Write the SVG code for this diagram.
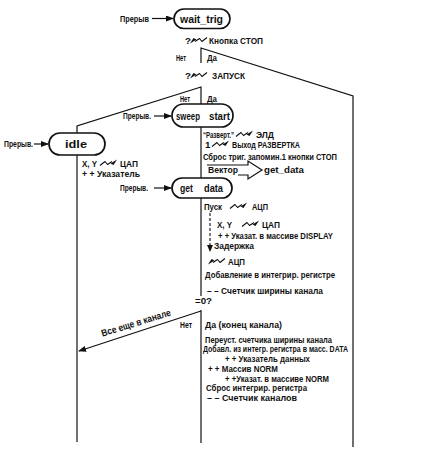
<svg xmlns="http://www.w3.org/2000/svg" xmlns:xlink="http://www.w3.org/1999/xlink" width="425" height="450" viewBox="0 0 425 450">
<style>
.t{font-family:"Liberation Sans",Arial,sans-serif;font-size:9.8px;font-weight:bold;fill:#111}
.s{font-size:9.2px}
.n{font-family:"Liberation Sans",Arial,sans-serif;font-size:10.5px;font-weight:bold;fill:#111}
.pill{fill:#fff;stroke:#111;stroke-width:1.7}
.ln{fill:none;stroke:#111;stroke-width:1.2}
.dash{fill:none;stroke:#111;stroke-width:1.1;stroke-dasharray:3 2}
.sig{fill:none;stroke:#111;stroke-width:1.1;stroke-linejoin:round}
</style>
<defs>
<marker id="ah" markerWidth="8" markerHeight="6" refX="7" refY="3" orient="auto" markerUnits="userSpaceOnUse">
<path d="M0,0 L8,3 L0,6 Z" fill="#111"/>
</marker>
<g id="sigR">
<path class="sig" d="M0,2.5 L5,-1.5 L7.5,1.5 L12,-1.5"/>
<path d="M10.5,0.5 L17,-3.5 L13.5,2 Z" fill="#111"/>
</g>
</defs>
<rect width="425" height="450" fill="#fff"/>

<g id="connectors">
<line class="ln" x1="152" y1="18.5" x2="173" y2="18.5" marker-end="url(#ah)"/>
<line class="ln" x1="154" y1="116" x2="171" y2="116" marker-end="url(#ah)"/>
<line class="ln" x1="34" y1="144" x2="48" y2="144" marker-end="url(#ah)"/>
<line class="ln" x1="154" y1="188" x2="171" y2="188" marker-end="url(#ah)"/>
<polyline class="ln" points="201,63 201,48 353,96 353,447"/>
<polyline class="ln" points="201,104 201,87 77,126 77,133"/>
<line class="ln" x1="77" y1="155" x2="77" y2="442"/>
<line class="ln" x1="201" y1="127" x2="201" y2="178"/>
<line class="ln" x1="201" y1="198" x2="201" y2="296"/>
<line class="ln" x1="201" y1="310" x2="201" y2="443"/>
<line class="ln" x1="201" y1="311" x2="79" y2="351" marker-end="url(#ah)"/>
<line class="dash" x1="210" y1="213" x2="210" y2="246"/>
<path d="M207,245 L213,245 L210,252 Z" fill="#111"/>
<path class="ln" d="M207,165 H248 V161 L262,170 L248,179 V175 H238"/>
</g>

<g id="wait_trig">
<rect class="pill" x="174" y="9" width="56" height="19.5" rx="9.75"/>
<text class="n" x="180" y="22.5" textLength="43" lengthAdjust="spacingAndGlyphs">wait_trig</text>
<text class="t" x="120" y="22" textLength="29" lengthAdjust="spacingAndGlyphs">Прерыв</text>
</g>

<g id="decision_stop">
<text class="t" x="185" y="43.5">?</text>
<use xlink:href="#sigR" transform="translate(207,40) rotate(180)"/>
<text class="t" x="209" y="43.5" textLength="54" lengthAdjust="spacingAndGlyphs">Кнопка СТОП</text>
<text class="t" x="176" y="60.5" textLength="10" lengthAdjust="spacingAndGlyphs">Нет</text>
<text class="t" x="207" y="60.5" textLength="10" lengthAdjust="spacingAndGlyphs">Да</text>
</g>

<g id="decision_start">
<text class="t" x="185" y="78.5">?</text>
<use xlink:href="#sigR" transform="translate(207,75) rotate(180)"/>
<text class="t" x="212" y="78.5" textLength="33" lengthAdjust="spacingAndGlyphs">ЗАПУСК</text>
<text class="t" x="180" y="101.5" textLength="10" lengthAdjust="spacingAndGlyphs">Нет</text>
<text class="t" x="207" y="101.5" textLength="10" lengthAdjust="spacingAndGlyphs">Да</text>
</g>

<g id="sweep_start">
<rect class="pill" x="172" y="104" width="61" height="23" rx="11.5"/>
<text class="n" x="176" y="119.5" textLength="24" lengthAdjust="spacingAndGlyphs">sweep</text>
<text class="n" x="209" y="119.5" textLength="21" lengthAdjust="spacingAndGlyphs">start</text>
<text class="t" x="123" y="119" textLength="28" lengthAdjust="spacingAndGlyphs">Прерыв.</text>
<text class="t" x="203" y="137.5" textLength="31" lengthAdjust="spacingAndGlyphs">“Разверт.”</text>
<use xlink:href="#sigR" transform="translate(236,134)"/>
<text class="t" x="256" y="137.5" textLength="18" lengthAdjust="spacingAndGlyphs">ЭЛД</text>
<text class="t" x="205" y="147.5">1</text>
<use xlink:href="#sigR" transform="translate(212,144)"/>
<text class="t" x="232" y="147.5" textLength="68" lengthAdjust="spacingAndGlyphs">Выход РАЗВЕРТКА</text>
<text class="t" x="203" y="159.5" textLength="134" lengthAdjust="spacingAndGlyphs">Сброс триг. запомин.1 кнопки СТОП</text>
<text class="t" x="208" y="172.5" textLength="30" lengthAdjust="spacingAndGlyphs">Вектор</text>
<text class="t" x="264" y="173" textLength="40" lengthAdjust="spacingAndGlyphs">get_data</text>
</g>

<g id="idle">
<rect class="pill" x="49" y="133" width="56" height="22" rx="11"/>
<text class="n" x="65" y="148" textLength="22" lengthAdjust="spacingAndGlyphs">idle</text>
<text class="t" x="4" y="146.5" textLength="29" lengthAdjust="spacingAndGlyphs">Прерыв.</text>
<text class="t" x="82" y="166.5" textLength="15" lengthAdjust="spacingAndGlyphs">X, Y</text>
<use xlink:href="#sigR" transform="translate(100,163)"/>
<text class="t" x="120" y="166.5" textLength="18" lengthAdjust="spacingAndGlyphs">ЦАП</text>
<text class="t" x="82" y="176.5" textLength="58" lengthAdjust="spacingAndGlyphs">+ + Указатель</text>
</g>

<g id="get_data">
<rect class="pill" x="172" y="178" width="60" height="20" rx="10"/>
<text class="n" x="180" y="192" textLength="13" lengthAdjust="spacingAndGlyphs">get</text>
<text class="n" x="204" y="192" textLength="19" lengthAdjust="spacingAndGlyphs">data</text>
<text class="t" x="120" y="190.5" textLength="28" lengthAdjust="spacingAndGlyphs">Прерыв.</text>
<text class="t" x="204" y="209.5" textLength="18" lengthAdjust="spacingAndGlyphs">Пуск</text>
<use xlink:href="#sigR" transform="translate(230,206)"/>
<text class="t" x="252" y="209.5" textLength="16" lengthAdjust="spacingAndGlyphs">АЦП</text>
<text class="t" x="217" y="227.5" textLength="15" lengthAdjust="spacingAndGlyphs">X, Y</text>
<use xlink:href="#sigR" transform="translate(242,224)"/>
<text class="t" x="262" y="227.5" textLength="18" lengthAdjust="spacingAndGlyphs">ЦАП</text>
<text class="t" x="218" y="238.5" textLength="115" lengthAdjust="spacingAndGlyphs">+ + Указат. в массиве DISPLAY</text>
<text class="t" x="214" y="248.5" textLength="40" lengthAdjust="spacingAndGlyphs">Задержка</text>
<use xlink:href="#sigR" transform="translate(225,261) rotate(180)"/>
<text class="t" x="228" y="264.5" textLength="17" lengthAdjust="spacingAndGlyphs">АЦП</text>
<text class="t" x="205" y="277.5" textLength="130" lengthAdjust="spacingAndGlyphs">Добавление в интегрир. регистре</text>
<text class="t" x="207" y="293.5" textLength="116" lengthAdjust="spacingAndGlyphs">– –  Счетчик ширины канала</text>
<text class="t" x="195" y="303.5" textLength="17" lengthAdjust="spacingAndGlyphs">=0?</text>
</g>

<g id="end_channel">
<text class="t" x="180" y="327.5" textLength="12" lengthAdjust="spacingAndGlyphs">Нет</text>
<text class="t" x="137" y="326" text-anchor="middle" transform="rotate(-17.2 137 326)" textLength="72" lengthAdjust="spacingAndGlyphs">Все еще в канале</text>
<text class="t" x="205" y="327.5" textLength="77" lengthAdjust="spacingAndGlyphs">Да (конец канала)</text>
<text class="t s" x="205" y="342.5" textLength="127" lengthAdjust="spacingAndGlyphs">Переуст. счетчика ширины канала</text>
<text class="t s" x="203" y="351.5" textLength="145" lengthAdjust="spacingAndGlyphs">Добавл. из интегр. регистра в масс. DATA</text>
<text class="t s" x="225" y="361.5" textLength="85" lengthAdjust="spacingAndGlyphs">+ + Указатель данных</text>
<text class="t s" x="208" y="371.5" textLength="70" lengthAdjust="spacingAndGlyphs">+ +  Массив NORM</text>
<text class="t s" x="225" y="381.5" textLength="104" lengthAdjust="spacingAndGlyphs">+ +Указат. в массиве NORM</text>
<text class="t s" x="206" y="390.5" textLength="101" lengthAdjust="spacingAndGlyphs">Сброс интегрир. регистра</text>
<text class="t s" x="207" y="400.5" textLength="90" lengthAdjust="spacingAndGlyphs">– –  Счетчик каналов</text>
</g>
</svg>
